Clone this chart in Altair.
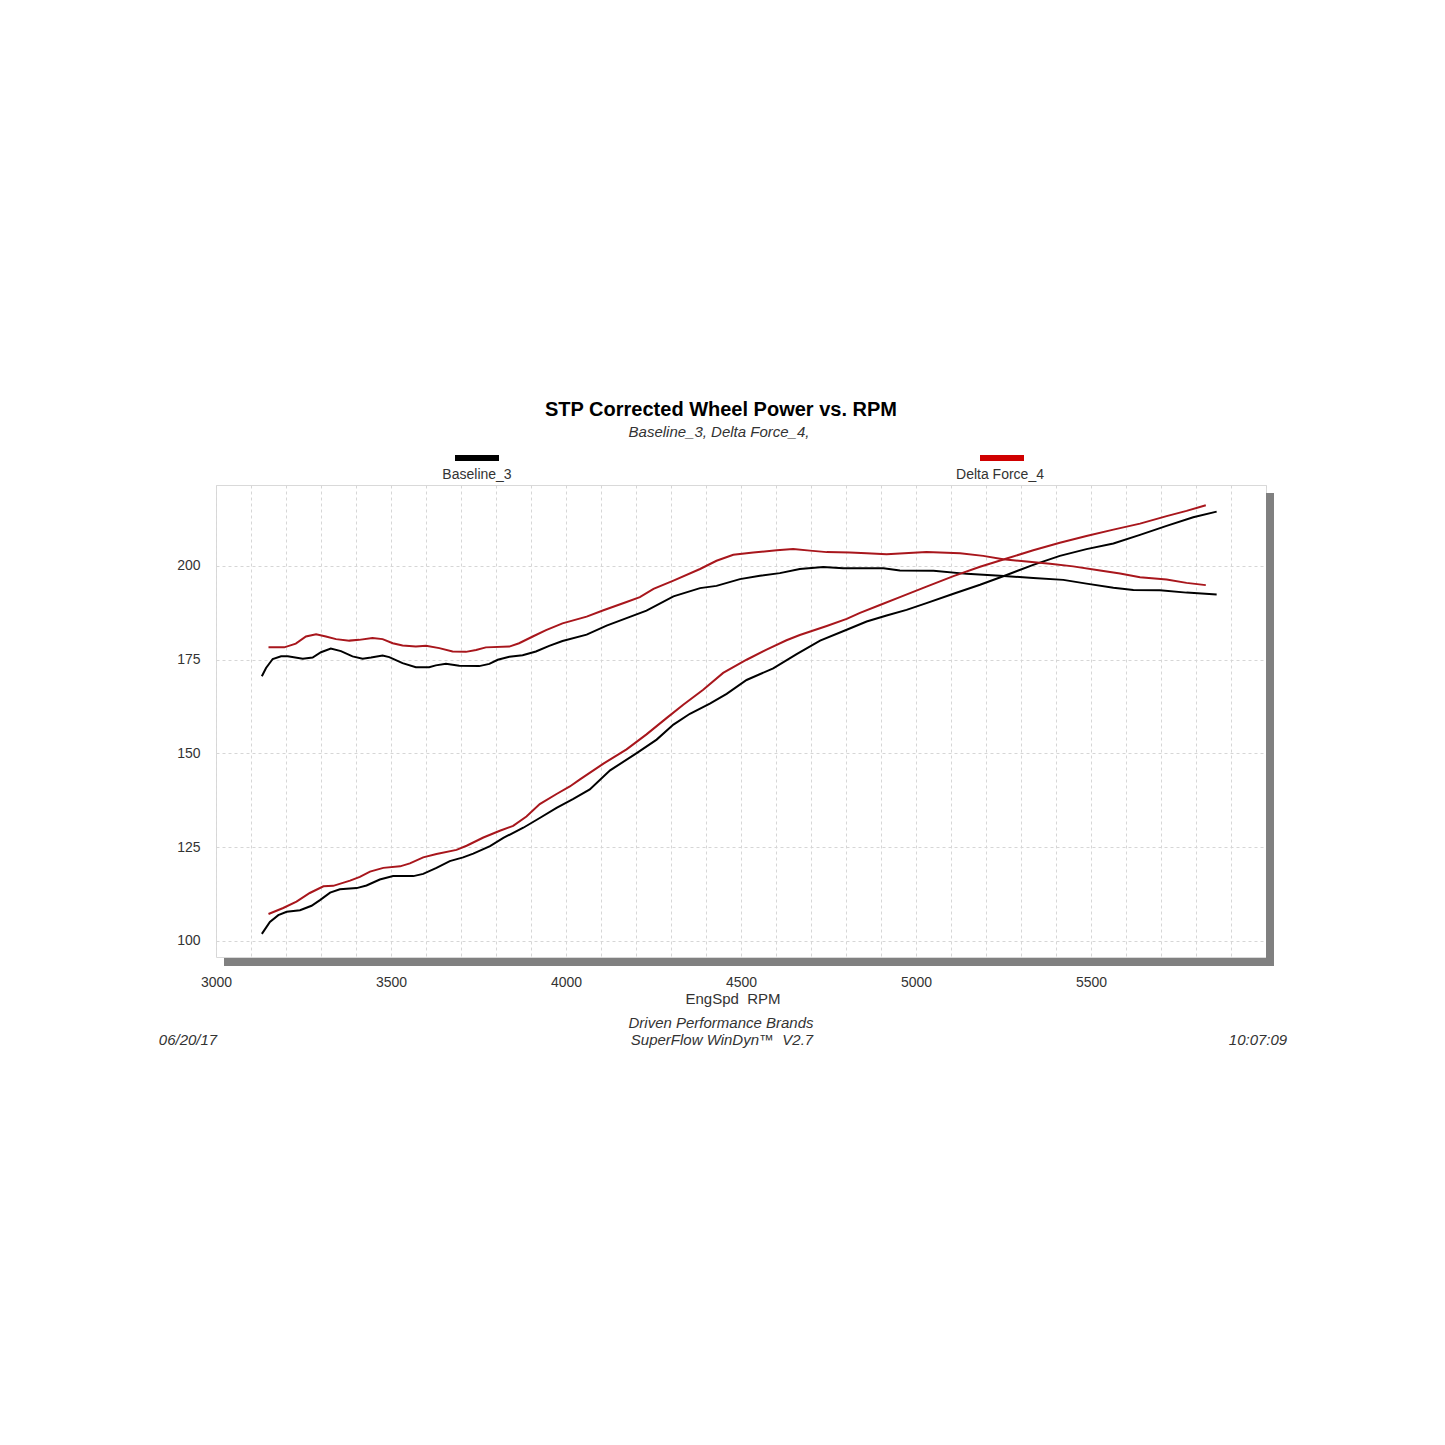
import altair as alt
import pandas as pd

FONT = "Liberation Sans"

# ---- data (RPM, value) ----
base_pwr_rpm = [3131, 3154, 3178, 3202, 3240, 3273, 3297, 3326, 3354, 3402, 3430, 3468, 3506, 3564, 3592,
                3630, 3668, 3706, 3735, 3783, 3821, 3878, 3925, 3973, 4021, 4068, 4126, 4202, 4259, 4307,
                4354, 4411, 4459, 4516, 4592, 4659, 4726, 4802, 4859, 4916, 4973, 5030, 5107, 5183, 5259,
                5335, 5411, 5487, 5564, 5640, 5716, 5792, 5859]
base_pwr_val = [101.9, 105.1, 106.9, 107.8, 108.2, 109.4, 110.9, 112.9, 113.8, 114.1, 114.8, 116.4, 117.3, 117.3, 117.9,
                119.5, 121.3, 122.3, 123.3, 125.3, 127.5, 130.2, 132.8, 135.5, 137.9, 140.4, 145.5, 150.1, 153.7, 157.7,
                160.6, 163.3, 165.9, 169.6, 172.7, 176.5, 180.1, 183.0, 185.2, 186.8, 188.3, 190.1, 192.6, 195.0, 197.6,
                200.3, 202.7, 204.5, 206.0, 208.3, 210.7, 213.0, 214.5]

base_trq_rpm = [3131, 3143, 3162, 3186, 3205, 3248, 3276, 3300, 3328, 3357, 3390, 3419, 3443, 3476, 3495,
                3533, 3571, 3609, 3628, 3657, 3695, 3752, 3781, 3805, 3838, 3876, 3914, 3952, 3990, 4059,
                4116, 4173, 4230, 4307, 4383, 4430, 4497, 4554, 4611, 4668, 4735, 4792, 4859, 4907, 4954,
                5050, 5145, 5240, 5335, 5421, 5487, 5564, 5621, 5697, 5773, 5859]
base_trq_val = [170.6, 172.8, 175.2, 175.9, 175.9, 175.3, 175.6, 177.0, 178.0, 177.3, 175.9, 175.3, 175.6, 176.1, 175.7,
                174.1, 173.0, 173.0, 173.5, 173.9, 173.4, 173.3, 173.9, 175.0, 175.8, 176.2, 177.2, 178.7, 180.0, 181.7,
                184.1, 186.1, 188.1, 191.9, 194.1, 194.7, 196.5, 197.4, 198.1, 199.2, 199.7, 199.4, 199.4, 199.4, 198.8,
                198.7, 197.9, 197.4, 196.8, 196.3, 195.3, 194.2, 193.6, 193.5, 192.9, 192.4]

df_pwr_rpm = [3150, 3192, 3230, 3268, 3307, 3335, 3383, 3411, 3440, 3478, 3526, 3554, 3592, 3630, 3687,
              3716, 3764, 3811, 3849, 3887, 3925, 3973, 4011, 4040, 4107, 4173, 4230, 4288, 4335, 4392,
              4449, 4516, 4573, 4630, 4668, 4745, 4802, 4840, 4897, 4954, 5030, 5107, 5183, 5259, 5335,
              5411, 5487, 5564, 5640, 5716, 5773, 5828]
df_pwr_val = [107.2, 108.8, 110.5, 112.8, 114.6, 114.7, 116.1, 117.1, 118.5, 119.5, 119.9, 120.7, 122.3, 123.2, 124.3,
              125.4, 127.6, 129.4, 130.7, 133.2, 136.5, 139.2, 141.2, 143.1, 147.3, 151.1, 155.1, 159.5, 163.0, 167.0,
              171.5, 175.0, 177.7, 180.2, 181.6, 184.0, 185.9, 187.5, 189.6, 191.7, 194.5, 197.3, 199.8, 202.0, 204.2,
              206.2, 208.0, 209.7, 211.3, 213.3, 214.7, 216.2]

df_trq_rpm = [3150, 3195, 3228, 3257, 3286, 3314, 3343, 3381, 3409, 3447, 3476, 3505, 3533, 3571, 3600,
              3638, 3676, 3714, 3743, 3771, 3838, 3866, 3905, 3943, 3990, 4059, 4107, 4173, 4211, 4250,
              4307, 4383, 4430, 4478, 4535, 4602, 4649, 4697, 4745, 4811, 4859, 4916, 4954, 5030, 5126,
              5192, 5249, 5316, 5383, 5449, 5526, 5583, 5640, 5716, 5773, 5828]
df_trq_val = [178.3, 178.3, 179.3, 181.2, 181.8, 181.2, 180.5, 180.1, 180.3, 180.8, 180.5, 179.4, 178.8, 178.5, 178.7,
              178.1, 177.2, 177.1, 177.6, 178.3, 178.5, 179.4, 181.2, 182.9, 184.7, 186.5, 188.2, 190.4, 191.7, 193.9,
              196.1, 199.2, 201.4, 203.0, 203.6, 204.2, 204.5, 204.1, 203.7, 203.6, 203.4, 203.1, 203.3, 203.7, 203.4,
              202.7, 201.8, 201.2, 200.6, 199.9, 198.8, 198.0, 197.0, 196.4, 195.5, 194.9]

runs = ["Baseline_3", "Delta Force_4"]
line_colors = ["#000000", "#a8161c"]
legend_colors = ["#000000", "#d00000"]

x_ticks = list(range(3000, 6001, 100))
y_ticks = [100, 125, 150, 175, 200]

rows = []
for run, curve, rpm, val in [
    (runs[0], "power", base_pwr_rpm, base_pwr_val),
    (runs[0], "torque", base_trq_rpm, base_trq_val),
    (runs[1], "power", df_pwr_rpm, df_pwr_val),
    (runs[1], "torque", df_trq_rpm, df_trq_val),
]:
    for r, v in zip(rpm, val):
        rows.append({"run": run, "curve": run + "_" + curve, "rpm": r, "val": v})
data = pd.DataFrame(rows)

W, H = 1050, 472
TXT = "#333333"

lines = alt.Chart(data).mark_line(strokeWidth=2, clip=True).encode(
    x=alt.X("rpm:Q",
            scale=alt.Scale(domain=[3000, 6000], nice=False, zero=False),
            axis=alt.Axis(values=x_ticks, format="d",
                          labelExpr="(datum.value % 500 === 0 && datum.value < 6000) ? datum.label : ''",
                          grid=True, gridDash=[3, 3], gridColor="#d6d6d6",
                          domain=False, ticks=False, tickSize=0, labelPadding=18,
                          labelFlush=False, labelBound=False,
                          labelFontSize=14, labelFont=FONT, labelColor=TXT,
                          labelOverlap=False, title=None)),
    y=alt.Y("val:Q",
            scale=alt.Scale(domain=[95.73, 221.6], nice=False, zero=False),
            axis=alt.Axis(values=y_ticks, grid=True, gridDash=[3, 3], gridColor="#d6d6d6",
                          domain=False, ticks=False, tickSize=0, labelPadding=16,
                          labelFlush=False,
                          labelFontSize=14, labelFont=FONT, labelColor=TXT, title=None)),
    color=alt.Color("run:N", scale=alt.Scale(domain=runs, range=line_colors), legend=None),
    detail="curve:N",
)

one = alt.Data(values=[{"k": 1}])

shadow_r = alt.Chart(one).mark_rect(color="#808080").encode(
    x=alt.value(W), x2=alt.value(W + 8), y=alt.value(8), y2=alt.value(H + 9))
shadow_b = alt.Chart(one).mark_rect(color="#808080").encode(
    x=alt.value(8), x2=alt.value(W + 8), y=alt.value(H + 1), y2=alt.value(H + 9))


def label(txt, x, y, size, color=TXT, **kw):
    return alt.Chart(alt.Data(values=[{"t": txt}])).mark_text(
        x=x, y=y, fontSize=size, font=FONT, color=color, baseline="middle", **kw
    ).encode(text="t:N")


leg_bar_0 = alt.Chart(one).mark_rect(color=legend_colors[0]).encode(
    x=alt.value(239), x2=alt.value(283), y=alt.value(-30), y2=alt.value(-24))
leg_bar_1 = alt.Chart(one).mark_rect(color=legend_colors[1]).encode(
    x=alt.value(764), x2=alt.value(808), y=alt.value(-30), y2=alt.value(-24))

texts = [
    label("STP Corrected Wheel Power vs. RPM", 505, -75, 20, color="#000000", fontWeight="bold"),
    label("Baseline_3, Delta Force_4,", 503, -53, 15, fontStyle="italic"),
    label(runs[0], 261, -10, 14),
    label(runs[1], 784, -10, 14),
    label("EngSpd\u00a0\u00a0RPM", 517, 514, 15),
    label("Driven Performance Brands", 505, 538, 15, fontStyle="italic"),
    label("SuperFlow WinDyn\u2122\u00a0\u00a0V2.7", 506, 555, 15, fontStyle="italic"),
    label("06/20/17", -28, 555, 15, fontStyle="italic"),
    label("10:07:09", 1042, 555, 15, fontStyle="italic"),
]

chart = alt.layer(shadow_r, shadow_b, lines, leg_bar_0, leg_bar_1, *texts).properties(
    width=W, height=H,
    padding={"left": 208, "top": 477, "right": 170, "bottom": 420},
    autosize=alt.AutoSizeParams(type="none"),
    background="#ffffff",
).configure_view(stroke="#d9d9d9", strokeWidth=1)

chart.save("out.html", embed_options={"renderer": "svg", "actions": False})
